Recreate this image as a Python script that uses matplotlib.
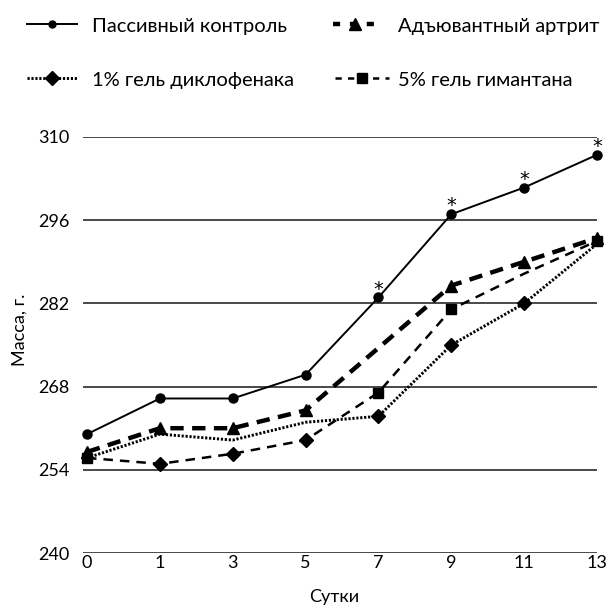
import matplotlib
matplotlib.use("Agg")
import matplotlib.pyplot as plt
from matplotlib.lines import Line2D

plt.rcParams['font.family'] = ['Lato', 'DejaVu Sans']

# ---- data ----
days = ['0', '1', '3', '5', '7', '9', '11', '13']
passive = [260, 266, 266, 270, 283, 297, 301.5, 307]
adjuvant = [257, 261, 261, 264, 274.5, 285, 289, 293]
diclofenac = [256, 260, 259, 262, 263, 275, 282, 292]
gimantan = [256, 255, 256.7, 259, 267, 281, 287, 292.5]
significant = [False, False, False, False, True, True, True, True]
y_ticks = [240, 254, 268, 282, 296, 310]
labels = ['Пассивный контроль', 'Адъювантный артрит',
          '1% гель диклофенака', '5% гель гимантана']

# per-point marker styles as they appear in the original picture
adj_marks = ['^', '^', '^', '^', '', '^', '^', '^']
dic_marks = ['', '', '', '', 'D', 'D', 'D', '']
gim_marks = ['s', 'D', 'D', 'D', 's', 's', '', 's']

fig = plt.figure(figsize=(6.12, 6.10), dpi=100)
ax = fig.add_axes([83/612, 1-553/610, 514/612, 416/610])
x = list(range(len(days)))

ax.set_ylim(240, 310)
ax.set_xlim(-0.055, 7.0)
ax.set_yticks(y_ticks)
ax.set_xticks(x)
ax.set_xticklabels(days)
ax.yaxis.grid(True, color='#2a2a2a', lw=1.2)
ax.set_axisbelow(True)
for s in ax.spines.values():
    s.set_visible(False)
ax.tick_params(axis='y', length=0, pad=10, labelsize=13)
ax.tick_params(axis='x', length=0, pad=1.5, labelsize=13)

# lines
ax.plot(x, passive, color='black', lw=1.4, marker='o', ms=6.5, clip_on=False, zorder=5)
ax.plot(x, adjuvant, color='black', lw=3.2, dashes=(3, 1.9), clip_on=False, zorder=4)
ax.plot(x, diclofenac, color='black', lw=2.1, dashes=(0.75, 0.6), clip_on=False, zorder=3)
ax.plot(x, gimantan, color='black', lw=1.8, dashes=(3.8, 2.8), clip_on=False, zorder=3)

ms = {'^': 9, 'D': 7.5, 's': 7.5}
for xs, ys, mk in ((x, adjuvant, adj_marks), (x, diclofenac, dic_marks), (x, gimantan, gim_marks)):
    for xi, yi, m in zip(xs, ys, mk):
        if m:
            ax.plot([xi], [yi], ls='none', marker=m, ms=ms[m], color='black',
                    clip_on=False, zorder=6)

for xi, yi, sig in zip(x, passive, significant):
    if sig:
        ax.annotate('*', (xi, yi), xytext=(0, 2), textcoords='offset points',
                    ha='center', va='baseline', fontsize=14, family='DejaVu Sans')

yl = ax.set_ylabel('Масса, г.', fontsize=13)
yl.set_va('center')
ax.yaxis.set_label_coords((20-83)/514, (553-330)/416)
xl = ax.set_xlabel('Сутки', fontsize=13)
xl.set_va('center')
ax.xaxis.set_label_coords((334-83)/514, (553-597)/416)

# legend (one entry per position, as in the original layout)
handles = [
    Line2D([], [], color='black', lw=1.4, marker='o', ms=5),
    Line2D([], [], color='black', lw=3.2, dashes=(1.6, 2.2), marker='^', ms=8),
    Line2D([], [], color='black', lw=2.1, dashes=(0.75, 0.6), marker='D', ms=7),
    Line2D([], [], color='black', lw=1.8, dashes=(2.5, 2.5), marker='s', ms=7),
]
fs = 14.5
anchors = [(27/612, 1-26/610, 2.5, 0.75), (333/612, 1-26/610, 2.2, 1.05),
           (27/612, 1-80/610, 2.5, 0.75), (335/612, 1-80/610, 2.7, 0.45)]
for h, lab, (ax_, ay_, hl, pad) in zip(handles, labels, anchors):
    fig.legend([h], [lab], loc='center left', bbox_to_anchor=(ax_, ay_),
               frameon=False, borderpad=0, borderaxespad=0, fontsize=fs,
               handlelength=hl, handletextpad=pad)

fig.savefig('out.png', dpi=100)
